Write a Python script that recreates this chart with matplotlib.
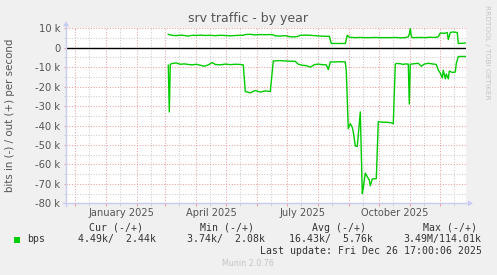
import matplotlib
matplotlib.use('Agg')
import matplotlib.pyplot as plt
import matplotlib.dates as mdates
from matplotlib.patches import Polygon, Rectangle
from matplotlib.ticker import MultipleLocator
import pandas as pd

W, H = 497, 275

title = 'srv traffic - by year'
ylabel = 'bits in (-) / out (+) per second'

# days counted from 2025-01-01, values in kbit/s
out_days = [62, 64, 66, 70, 74, 78, 82, 86, 90, 94,
            99, 104, 109, 114, 119, 124, 129, 134, 137, 139,
            144, 149, 154, 159, 164, 167, 169, 174, 179, 182,
            184, 189, 192, 194, 199, 204, 209, 214, 219, 223,
            225, 239, 241, 243, 249, 254, 259, 264, 269, 274,
            279, 284, 289, 294, 299, 302, 303, 304, 305, 306,
            314, 319, 324, 329, 332, 334, 338, 341, 342, 344,
            346, 349, 351, 352, 359]
out_kbps = [6.9, 6.6, 6.4, 6.2, 6.5, 6.3, 6.0, 6.4, 6.3, 6.5,
            6.3, 6.4, 6.2, 6.4, 6.3, 6.1, 6.3, 6.4, 6.4, 6.8,
            6.9, 6.6, 6.8, 6.7, 6.8, 6.6, 6.1, 6.0, 6.2, 5.9,
            5.6, 5.6, 5.9, 6.4, 6.5, 6.4, 6.2, 6.0, 5.9, 5.9,
            2.2, 2.2, 6.4, 5.4, 5.2, 5.3, 5.2, 5.2, 5.3, 5.2,
            5.2, 5.2, 5.3, 5.1, 5.2, 5.6, 7.0, 9.9, 6.0, 5.2,
            5.3, 5.2, 5.4, 5.3, 5.6, 7.6, 7.4, 7.8, 4.2, 7.8,
            8.1, 8.0, 7.8, 2.2, 2.4]

in_days = [62, 63, 64, 66, 70, 74, 78, 82, 86, 90,
           94, 98, 102, 106, 109, 114, 119, 124, 129, 134,
           137, 139, 144, 149, 154, 159, 164, 167, 174, 179,
           184, 189, 192, 196, 200, 204, 208, 212, 216, 220,
           222, 224, 229, 234, 239, 240, 242, 244, 246, 247,
           249, 251, 254, 256, 257, 259, 261, 263, 264, 266,
           270, 272, 276, 280, 284, 287, 289, 290, 294, 297,
           299, 301, 302, 303, 304, 308, 312, 315, 318, 322,
           326, 330, 332, 334, 336, 337, 339, 340, 342, 343,
           346, 349, 350, 352, 359]
in_kbps = [9.0, 33.0, 8.5, 8.1, 7.8, 8.5, 8.3, 8.6, 8.8, 8.5,
           9.0, 9.5, 8.8, 7.6, 8.6, 8.8, 8.4, 8.7, 8.5, 8.6,
           8.8, 22.5, 23.2, 22.0, 22.8, 22.2, 22.5, 6.8, 6.6, 6.8,
           6.9, 7.0, 8.5, 9.0, 9.2, 10.0, 8.7, 8.4, 8.7, 8.8,
           11.2, 7.3, 7.3, 7.2, 7.3, 12.0, 41.6, 39.0, 41.0, 43.3,
           50.5, 50.7, 33.0, 75.0, 72.0, 64.5, 66.4, 68.0, 71.0, 67.5,
           67.3, 38.0, 38.3, 38.3, 38.5, 39.0, 8.5, 8.1, 8.2, 8.6,
           8.3, 8.4, 8.4, 29.0, 8.5, 8.2, 8.0, 9.5, 8.4, 8.0,
           8.3, 8.6, 11.5, 13.0, 15.5, 11.6, 16.0, 13.5, 16.0, 12.0,
           12.7, 12.5, 8.1, 4.5, 4.5]

y_ticks = list(range(-80, 11, 10))
month_labels = ['January 2025', 'April 2025', 'July 2025', 'October 2025']
label_dates = ['2025-01-16', '2025-04-16', '2025-07-16', '2025-10-16']
legend_cols = ['Cur (-/+)', 'Min (-/+)', 'Avg (-/+)', 'Max (-/+)']
legend_vals = ['4.49k/  2.44k', '3.74k/  2.08k', '16.43k/  5.76k', '3.49M/114.01k']
last_update = 'Last update: Fri Dec 26 17:00:06 2025'
version = 'Munin 2.0.76'

GREEN = '#00CC00'
MGRID = '#EBA0A0'
GRID = '#CCCCCC'
AXIS = '#C8CCF2'
TXT = '#555555'

# plot area in pixels
x0, x1 = 66, 466
ytop, ybot = 28.3, 203.3

fig = plt.figure(figsize=(W / 100, H / 100), dpi=100, facecolor='#F0F0F0')
ax = fig.add_axes([x0 / W, 1 - ybot / H, (x1 - x0) / W, (ybot - ytop) / H])
ax.set_facecolor('white')

t0 = pd.Timestamp('2025-01-01')
out_t = t0 + pd.to_timedelta(out_days, unit='D')
in_t = t0 + pd.to_timedelta(in_days, unit='D')

ax.set_xlim(pd.Timestamp('2024-11-21 17:00'), pd.Timestamp('2025-12-26 17:00'))
ax.set_ylim(-80, 10)

ax.xaxis.set_major_locator(mdates.MonthLocator())
ax.xaxis.set_minor_locator(mdates.MonthLocator(bymonthday=15))
ax.yaxis.set_major_locator(MultipleLocator(10))
ax.yaxis.set_minor_locator(MultipleLocator(5))

dots = (0, (1, 1.6))
ax.grid(which='minor', color=GRID, lw=0.75, ls=dots)
ax.grid(which='major', color=MGRID, lw=0.75, ls=dots)
ax.set_axisbelow(True)

ax.set_yticks(y_ticks)
ax.set_yticklabels([f'{v} k' if v else '0' for v in y_ticks])
ax.tick_params(axis='y', which='major', length=1.5, color=MGRID, pad=2.5,
               labelsize=7.2, labelcolor=TXT)
ax.tick_params(axis='y', which='minor', length=1.5, color=GRID)
ax.tick_params(axis='x', which='major', length=2.2, color=MGRID, labelbottom=False)
ax.tick_params(axis='x', which='minor', length=2.2, color=GRID)
for s in ax.spines.values():
    s.set_visible(False)

ax.axhline(0, color='black', lw=1.0, zorder=2)
ax.plot(out_t, out_kbps, color=GREEN, lw=1.0, zorder=3)
ax.plot(in_t, [-v for v in in_kbps], color=GREEN, lw=1.0, zorder=3)

for lab, d in zip(month_labels, label_dates):
    ax.text(pd.Timestamp(d), -(212.5 - ybot) / (ybot - ytop), lab,
            transform=ax.get_xaxis_transform(), ha='center', va='center',
            fontsize=7.1, color=TXT)

# overlay in pixel coordinates for the decorations
ov = fig.add_axes([0, 0, 1, 1])
ov.set_xlim(0, W)
ov.set_ylim(H, 0)
ov.set_axis_off()

ov.plot([x0, x0], [ybot + 3, ytop - 2], color=AXIS, lw=1.0)
ov.plot([x0 - 3, x1 + 2], [ybot, ybot], color=AXIS, lw=1.0)
ov.add_patch(Polygon([(x0 - 3, ytop - 2), (x0 + 3, ytop - 2), (x0, ytop - 7)],
                     closed=True, color=AXIS, lw=0))
ov.add_patch(Polygon([(x1 + 2, ybot - 3), (x1 + 2, ybot + 3), (x1 + 7, ybot)],
                     closed=True, color=AXIS, lw=0))

ov.text(248, 18.5, title, ha='center', va='center', fontsize=9, color=TXT)
ov.text(10, (ytop + ybot) / 2, ylabel, rotation=90, ha='center', va='center',
        fontsize=7.4, color=TXT)
ov.text(487.5, 5, 'RRDTOOL / TOBI OETIKER', rotation=270, ha='center', va='top',
        fontsize=5.3, color='#C4C4C4')

mono = dict(family='DejaVu Sans Mono', fontsize=7.15, color='#333333', va='center')
for lab, x in zip(legend_cols, [89.3, 200, 312.3, 422.7]):
    ov.text(x, 227.7, lab, ha='left', **mono)
ov.add_patch(Rectangle((14, 236.5), 6, 6, color=GREEN, lw=0))
ov.text(26.7, 239.3, 'bps', ha='left', **mono)
for val, x in zip(legend_vals, [78.3, 187.3, 289.3, 403.3]):
    ov.text(x, 239.3, val, ha='left', **mono)
ov.text(482.3, 250.7, last_update, ha='right', **mono)
ov.text(248, 263.5, version, ha='center', va='center', fontsize=5.8, color='#C4C4C4')

fig.savefig('out.png', dpi=100, facecolor=fig.get_facecolor())
